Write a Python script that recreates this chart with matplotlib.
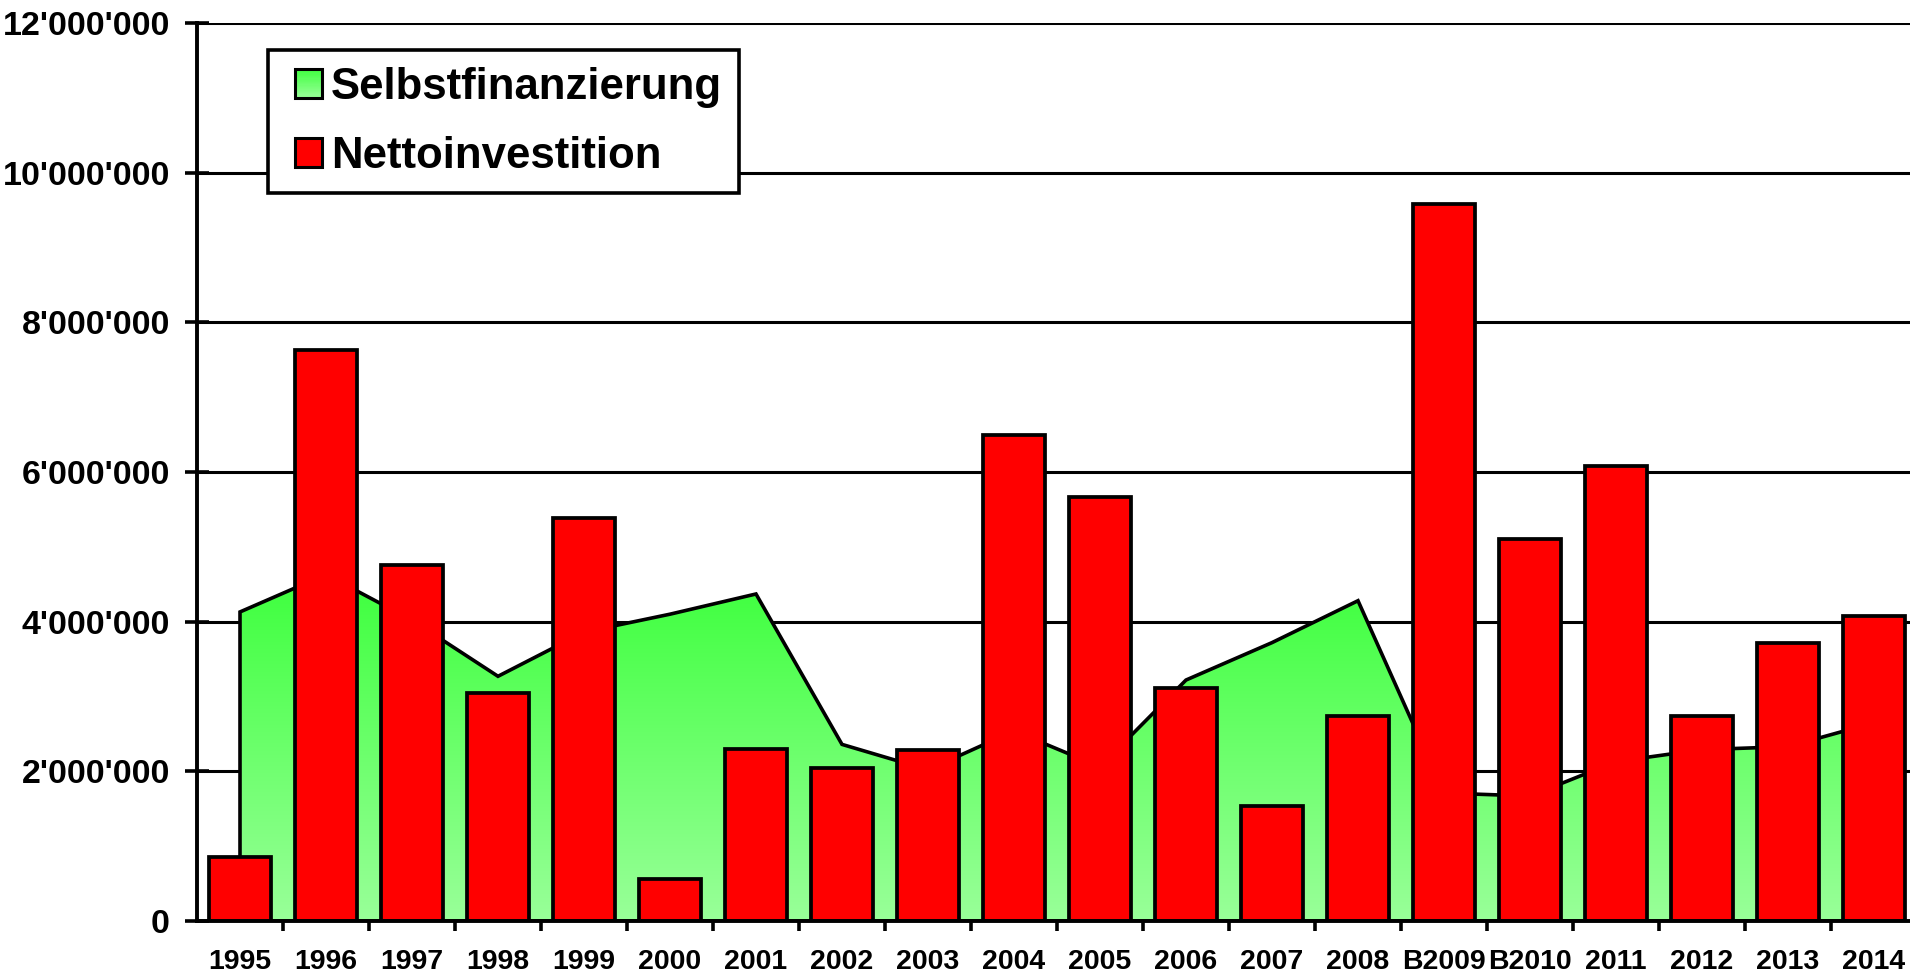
import matplotlib
matplotlib.use("Agg")
import matplotlib.pyplot as plt
import numpy as np
from matplotlib.patches import Rectangle, Patch, Polygon
from matplotlib.colors import LinearSegmentedColormap
from matplotlib.legend_handler import HandlerBase
from matplotlib.ticker import FuncFormatter, FixedLocator

plt.rcParams['font.family'] = ['Liberation Sans', 'DejaVu Sans']
plt.rcParams['font.weight'] = 'bold'

# ---- data ----
years = ['1995', '1996', '1997', '1998', '1999', '2000', '2001', '2002', '2003', '2004',
         '2005', '2006', '2007', '2008', 'B2009', 'B2010', '2011', '2012', '2013', '2014']
selbstfinanzierung = [4130000, 4630000, 4020000, 3270000, 3860000, 4100000, 4370000, 2360000,
                      2020000, 2540000, 2060000, 3220000, 3720000, 4280000, 1710000, 1670000,
                      2130000, 2290000, 2330000, 2650000]
nettoinvestition = [850000, 7630000, 4760000, 3050000, 5380000, 560000, 2300000, 2040000,
                    2280000, 6500000, 5670000, 3110000, 1540000, 2740000, 9580000, 5110000,
                    6080000, 2740000, 3710000, 4080000]
yticks = [0, 2000000, 4000000, 6000000, 8000000, 10000000, 12000000]
series_names = ['Selbstfinanzierung', 'Nettoinvestition']

W, H = 1910, 976
fig = plt.figure(figsize=(W / 100, H / 100), dpi=100)
ax = fig.add_axes([197 / W, 55 / H, 1720 / W, 898 / H])

x = np.arange(len(years))
green_cmap = LinearSegmentedColormap.from_list('g', [(0.60, 1.0, 0.60), (0.24, 1.0, 0.24)])

# area with vertical gradient
verts = [(x[0], 0)] + list(zip(x, selbstfinanzierung)) + [(x[-1], 0)]
poly = Polygon(verts, closed=True, facecolor='none', edgecolor='black', lw=2.6, zorder=1.5,
               joinstyle='miter')
ax.add_patch(poly)
top = max(selbstfinanzierung)
grad = np.linspace(0, 1, 256).reshape(-1, 1)
im = ax.imshow(grad, extent=(x[0], x[-1], 0, top), origin='lower', aspect='auto',
               cmap=green_cmap, zorder=1.2, interpolation='bilinear')
clip = Polygon(verts, closed=True, transform=ax.transData, facecolor='none', edgecolor='none')
im.set_clip_path(clip)

# bars
ax.bar(x, nettoinvestition, width=0.73, color='#ff0000', edgecolor='black', linewidth=2.7,
       zorder=2)

ax.set_xlim(-0.5, len(years) - 0.5)
ax.set_ylim(0, 12000000)

# grid and spines
ax.set_axisbelow(True)
ax.yaxis.grid(True, color='black', linewidth=2.2)
for s in ['top', 'right']:
    ax.spines[s].set_visible(False)
for s in ['left', 'bottom']:
    ax.spines[s].set_linewidth(2.8)
    ax.spines[s].set_zorder(3)

ax.set_yticks(yticks)
ax.yaxis.set_major_formatter(FuncFormatter(lambda v, p: f"{int(v):,}".replace(',', "'")))
ax.tick_params(axis='y', direction='inout', length=17, width=2.6, pad=11, labelsize=24.5)

ax.set_xticks(x)
ax.set_xticklabels(years)
ax.xaxis.set_minor_locator(FixedLocator(np.arange(0.5, len(years) - 0.5, 1)))
ax.tick_params(axis='x', which='major', length=0, pad=20.5, labelsize=20.5)
ax.tick_params(axis='x', which='minor', direction='inout', length=14, width=2.6)
for lab in ax.get_xticklabels() + ax.get_yticklabels():
    lab.set_fontweight('bold')


class SquareHandler(HandlerBase):
    """Square legend key, shifted to the right inside the handle box."""

    def __init__(self, colors, frac=0.77):
        super().__init__()
        self.colors = colors
        self.frac = frac

    def create_artists(self, legend, orig_handle, xdescent, ydescent, width, height,
                       fontsize, trans):
        arts = []
        w = width * self.frac
        x0 = -xdescent + width - w
        n = len(self.colors)
        for i, c in enumerate(self.colors):
            arts.append(Rectangle((x0, -ydescent + i * height / n), w, height / n,
                                  facecolor=c, edgecolor='none', transform=trans))
        arts.append(Rectangle((x0, -ydescent), w, height, facecolor='none',
                              edgecolor='black', lw=2.2, transform=trans))
        return arts


green_handle = Patch(facecolor='#66ff66')
red_handle = Patch(facecolor='#ff0000')
green_colors = [green_cmap((i + 0.5) / 24) for i in range(24)]
leg = ax.legend([green_handle, red_handle], series_names,
                handler_map={green_handle: SquareHandler(green_colors, frac=0.72),
                             red_handle: SquareHandler(['#ff0000'], frac=0.72)},
                loc='upper left', bbox_to_anchor=(268 / W, 1 - 50 / H),
                bbox_transform=fig.transFigure, borderaxespad=0,
                prop={'family': 'Liberation Sans', 'weight': 'bold', 'size': 31.5},
                handlelength=0.86, handleheight=0.66, handletextpad=0.2,
                labelspacing=0.64, borderpad=0.38, fancybox=False, framealpha=1,
                edgecolor='black')
leg.get_frame().set_linewidth(2.6)
leg.set_zorder(5)

fig.savefig('out.png', dpi=100)
